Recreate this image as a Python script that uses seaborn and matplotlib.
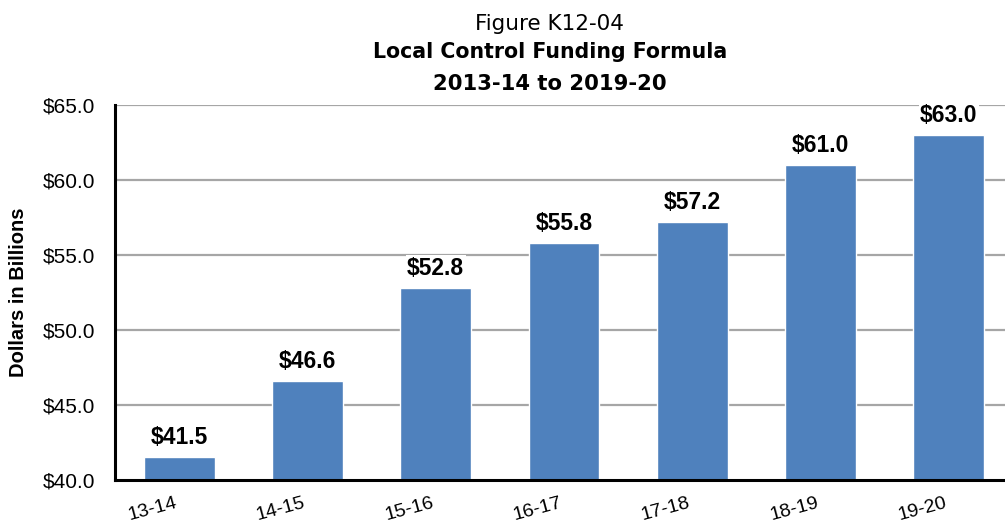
import numpy as np
import pandas as pd
import matplotlib
matplotlib.use("Agg")
import matplotlib.pyplot as plt
from matplotlib.ticker import FixedLocator
import seaborn as sns

years = ["13-14", "14-15", "15-16", "16-17", "17-18", "18-19", "19-20"]
funding = [41.5, 46.6, 52.8, 55.8, 57.2, 61.0, 63.0]
y_ticks = [40, 45, 50, 55, 60, 65]

sns.set_style("white")
plt.rcParams["font.family"] = ["Liberation Sans", "DejaVu Sans"]
plt.rcParams.update({"text.color": "black", "axes.labelcolor": "black",
                     "xtick.color": "black", "ytick.color": "black"})

df = pd.DataFrame({"year": years, "funding": funding})

fig = plt.figure(figsize=(10.05, 5.27), dpi=100)
# axes run a bit past the right edge, as in the original
ax = fig.add_axes([0.1144, 0.0892, 0.8936, 0.7116])

for t in y_ticks[1:]:
    ax.axhline(t, color="#A6A6A6", lw=1.6, zorder=0)

sns.barplot(data=df, x="year", y="funding", color="#4F81BD", width=0.553,
            saturation=1, ax=ax, zorder=2)

for i, v in enumerate(funding):
    ax.annotate(f"${v:.1f}", (i, v), xytext=(0, 6), textcoords="offset points",
                ha="center", va="bottom", fontsize=16.5, fontweight="bold",
                bbox=dict(facecolor="white", edgecolor="none", pad=1), zorder=3)

ax.set_ylim(40, 65)
ax.set_xlim(-0.5, 6.5)
ax.set_yticks(y_ticks)
ax.set_yticklabels([f"${t:.1f}" for t in y_ticks], fontsize=15)
ax.set_xticks(range(len(years)))
ax.set_xticklabels(years, fontsize=14, rotation=15, ha="right")
ax.tick_params(axis="x", which="major", length=0, pad=10.5)
ax.xaxis.set_minor_locator(FixedLocator(np.arange(-0.5, 7, 1)))
ax.tick_params(axis="x", which="minor", length=7, width=2, direction="out", color="black")
ax.tick_params(axis="y", length=7, width=2, direction="out", color="black", pad=7.5)
ax.set_xlabel("")
ax.set_ylabel("Dollars in Billions", fontsize=14.5, fontweight="bold", labelpad=10)

for s in ["top", "right"]:
    ax.spines[s].set_visible(False)
for s in ["left", "bottom"]:
    ax.spines[s].set_color("black")
    ax.spines[s].set_linewidth(2.2)

title_font = ["DejaVu Sans"]
fig.text(0.547, 0.943, "Figure K12-04", ha="center", va="baseline", fontsize=15.5,
         family=title_font)
fig.text(0.547, 0.889, "Local Control Funding Formula", ha="center", va="baseline",
         fontsize=14.8, fontweight="bold", family=title_font)
fig.text(0.547, 0.830, "2013-14 to 2019-20", ha="center", va="baseline",
         fontsize=15.2, fontweight="bold", family=title_font)

fig.savefig("out.png", dpi=100)
